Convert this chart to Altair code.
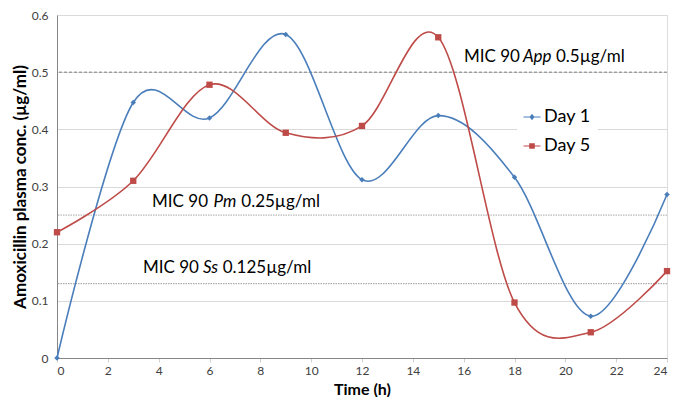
import altair as alt
import pandas as pd

# ---- data ----
time_h = [0, 3, 6, 9, 12, 15, 18, 21, 24]
day1 = [0.0, 0.447, 0.420, 0.566, 0.312, 0.424, 0.316, 0.073, 0.286]
day5 = [0.220, 0.310, 0.478, 0.394, 0.406, 0.561, 0.097, 0.045, 0.152]
series_names = ["Day 1", "Day 5"]

mic_values = [0.5, 0.25, 0.13]
mic_keys = ["App", "Pm", "Ss"]
ann_prefix = ["MIC 90", "MIC 90", "MIC 90"]
ann_species = ["App", "Pm", "Ss"]
ann_suffix = ["0.5µg/ml", "0.25µg/ml", "0.125µg/ml"]

x_ticks = list(range(0, 25, 2))
y_ticks = [0, 0.1, 0.2, 0.3, 0.4, 0.5, 0.6]

# ---- layout (annotation placement) ----
ann_y = [0.527, 0.273, 0.157]
ann_x_prefix = [16.01, 3.74, 3.38]
ann_x_species = [18.33, 6.16, 5.74]
ann_x_suffix = [19.63, 7.25, 6.52]

BLUE = "#4a7ebb"
RED = "#be4b48"
FONT = "Lato"

W, H = 610, 343

df = pd.DataFrame({
    "Time": time_h * 2,
    "Conc": day1 + day5,
    "Series": [series_names[0]] * len(time_h) + [series_names[1]] * len(time_h),
})
mic_df = pd.DataFrame({"mic": mic_values, "key": mic_keys})
ann_df = pd.DataFrame({
    "prefix": ann_prefix, "species": ann_species, "suffix": ann_suffix,
    "y": ann_y, "x1": ann_x_prefix, "x2": ann_x_species, "x3": ann_x_suffix,
})

xscale = alt.Scale(domain=[0, 24], nice=False, zero=False)
yscale = alt.Scale(domain=[0, 0.6], nice=False)
color_scale = alt.Scale(domain=series_names, range=[BLUE, RED])

x_axis = alt.Axis(
    values=x_ticks, title="Time (h)", grid=False,
    labelFont=FONT, labelFontSize=12, labelColor="#404040", labelPadding=3,
    tickSize=4, tickColor="#d0d0d0", domainColor="#868686",
    titleFont=FONT, titleFontSize=16, titleFontWeight="bold", titleColor="black",
    titleY=31, titleBaseline="middle",
)
y_axis = alt.Axis(
    values=y_ticks, title="Amoxicillin plasma conc. (µg/ml)",
    labelExpr="datum.value == 0 ? '0' : format(datum.value, '.1f')",
    grid=True, gridColor="#d9d9d9", gridWidth=1,
    labelFont=FONT, labelFontSize=12, labelColor="#404040", labelPadding=9,
    tickSize=0, domainColor="#868686",
    titleFont=FONT, titleFontSize=17, titleFontWeight="bold", titleColor="black",
    titleX=-37, titleY=H / 2, titleBaseline="middle", titleAlign="center", titleAngle=-90,
)

base = alt.Chart(df)

rules = alt.Chart(mic_df).mark_rule(strokeWidth=1).encode(
    y=alt.Y("mic:Q", scale=yscale, axis=y_axis),
    color=alt.Color("key:N", scale=alt.Scale(domain=mic_keys, range=["#7f7f7f", "#a6a6a6", "#999999"]), legend=None),
    strokeDash=alt.StrokeDash("key:N", scale=alt.Scale(domain=mic_keys, range=[[3, 2], [1.5, 1], [1.5, 1]]), legend=None),
)

lines = base.mark_line(interpolate="cardinal", tension=0, strokeWidth=1.6).encode(
    x=alt.X("Time:Q", scale=xscale, axis=x_axis),
    y=alt.Y("Conc:Q", scale=yscale, axis=y_axis),
    color=alt.Color("Series:N", scale=color_scale, legend=None),
)

points = base.mark_point(filled=True, opacity=1).encode(
    x=alt.X("Time:Q", scale=xscale),
    y=alt.Y("Conc:Q", scale=yscale),
    color=alt.Color("Series:N", scale=color_scale, legend=None),
    shape=alt.Shape("Series:N", scale=alt.Scale(domain=series_names, range=["diamond", "square"]), legend=None),
    size=alt.Size("Series:N", scale=alt.Scale(domain=series_names, range=[30, 40]), legend=None),
)

# legend-only layer (no rows drawn; legend comes from the explicit scale domain)
legend_shapes = [
    "M-1,-0.06H1V0.06H-1Z M0,-0.38L0.3,0L0,0.38L-0.3,0Z",
    "M-1,-0.06H1V0.06H-1Z M-0.33,-0.33H0.33V0.33H-0.33Z",
]
legend_layer = base.mark_point(filled=True, opacity=1).transform_filter("false").encode(
    x=alt.X("Time:Q", scale=xscale),
    y=alt.Y("Conc:Q", scale=yscale),
    color=alt.Color(
        "Series:N", scale=color_scale,
        legend=alt.Legend(
            title=None, orient="none", legendX=460, legendY=87,
            symbolSize=289, symbolStrokeWidth=0, symbolOpacity=1,
            labelFont=FONT, labelFontSize=18, labelColor="black",
            labelOffset=3, rowPadding=11, padding=6, fillColor="white", strokeColor="white",
        ),
    ),
    shape=alt.Shape("Series:N", scale=alt.Scale(domain=series_names, range=legend_shapes)),
)

txt_common = dict(align="left", baseline="middle", font=FONT, fontSize=17, color="black")
t1 = alt.Chart(ann_df).mark_text(**txt_common).encode(
    x=alt.X("x1:Q", scale=xscale), y=alt.Y("y:Q", scale=yscale), text="prefix:N")
t2 = alt.Chart(ann_df).mark_text(fontStyle="italic", **txt_common).encode(
    x=alt.X("x2:Q", scale=xscale), y=alt.Y("y:Q", scale=yscale), text="species:N")
t3 = alt.Chart(ann_df).mark_text(**txt_common).encode(
    x=alt.X("x3:Q", scale=xscale), y=alt.Y("y:Q", scale=yscale), text="suffix:N")

chart = alt.layer(rules, lines, points, legend_layer, t1, t2, t3).resolve_scale(
    color="independent", shape="independent", size="independent", strokeDash="independent"
).properties(
    width=W, height=H,
    autosize=alt.AutoSizeParams(type="none"),
    padding={"left": 49, "top": 7, "right": 5, "bottom": 39},
).configure_view(stroke=None).configure(background="white")

chart.save("out.html", embed_options={"renderer": "svg", "actions": False})
